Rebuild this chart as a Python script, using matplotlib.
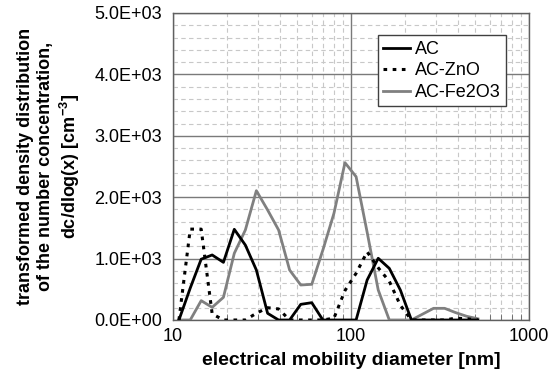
import matplotlib
matplotlib.use("Agg")
import matplotlib.pyplot as plt
from matplotlib.ticker import FixedLocator, FuncFormatter, MultipleLocator

plt.rcParams['font.family'] = ['Liberation Sans', 'DejaVu Sans']
plt.rcParams['mathtext.fontset'] = 'custom'
plt.rcParams['mathtext.rm'] = 'Liberation Sans'
plt.rcParams['mathtext.bf'] = 'Liberation Sans:bold'

# particle diameter channels [nm]
diameter = [10.8, 12.5, 14.4, 16.6, 19.2, 22.1, 25.5, 29.4, 34.0, 39.2,
            45.2, 52.2, 60.2, 69.5, 80.2, 92.5, 106.8, 123.2, 142.2, 164.1,
            189.3, 218.5, 252.1, 290.9, 335.7, 387.3, 446.9, 515.7]

ac = [0, 520, 990, 1059, 939, 1477, 1220, 814, 109, 0,
      0, 255, 282, 0, 0, 0, 0, 651, 1005, 841,
      489, 0, 0, 0, 0, 0, 0, 0]

ac_zno = [0, 1480, 1480, 100, 0, 0, 0, 110, 200, 180,
          0, 0, 0, 0, 30, 480, 760, 1110, 850, 630,
          240, 0, 0, 0, 0, 30, 20, 0]

ac_fe2o3 = [0, 0, 315, 206, 369, 1086, 1466, 2106, 1792, 1466,
            814, 570, 581, 1140, 1737, 2562, 2334, 1430, 489, 0,
            0, 0, 95, 190, 190, 120, 60, 20]

fig = plt.figure(figsize=(5.49, 3.80), dpi=100)
ax = fig.add_axes([0.3151, 0.1579, 0.6485, 0.8079])

ax.plot(diameter, ac, color='black', lw=2.0, label='AC', zorder=4)
ax.plot(diameter, ac_zno, color='black', lw=2.2, linestyle=(0, (1.2, 1.8)), label='AC-ZnO', zorder=4)
ax.plot(diameter, ac_fe2o3, color='#808080', lw=2.0, label='AC-Fe2O3', zorder=3)

ax.set_xscale('log')
ax.set_xlim(10, 1000)
ax.set_ylim(0, 5000)

ax.xaxis.set_major_locator(FixedLocator([10, 100, 1000]))
ax.xaxis.set_major_formatter(FuncFormatter(lambda v, p: f"{int(round(v))}"))
minors = [m * d for d in (10, 100) for m in range(2, 10)]
ax.xaxis.set_minor_locator(FixedLocator(minors))
ax.xaxis.set_minor_formatter(FuncFormatter(lambda v, p: ""))

ax.yaxis.set_major_locator(MultipleLocator(1000))
ax.yaxis.set_minor_locator(MultipleLocator(200))
ax.yaxis.set_major_formatter(FuncFormatter(lambda v, p: f"{v:.1E}"))

ax.grid(which='major', color='#7a7a7a', lw=1.0, linestyle='-')
ax.grid(which='minor', color='#c8c8c8', lw=0.8, linestyle=(0, (4, 3)))
ax.set_axisbelow(True)

ax.tick_params(which='both', direction='in', colors='#606060', labelcolor='black',
               labelsize=13)
ax.tick_params(axis='y', which='major', length=0, pad=8)
ax.tick_params(axis='x', which='major', length=0, pad=6)
ax.tick_params(which='minor', length=4)
ax.tick_params(axis='y', which='minor', length=0)

for s in ax.spines.values():
    s.set_color('#606060')
    s.set_linewidth(1.0)

ax.set_xlabel('electrical mobility diameter [nm]', fontsize=14, fontweight='bold', labelpad=5)
ax.set_ylabel('transformed density distribution\nof the number concentration,\n'
              r'dc/dlog(x) [cm$^{\mathbf{-3}}$]',
              fontsize=13, fontweight='bold', labelpad=9, linespacing=1.2)

leg = ax.legend(loc='upper right', bbox_to_anchor=(0.935, 0.927), fontsize=13,
                frameon=True, fancybox=False, edgecolor='#404040', framealpha=1,
                handlelength=1.45, handletextpad=0.28, borderpad=0.3, labelspacing=0.25,
                borderaxespad=0)
leg.get_frame().set_linewidth(1.0)

fig.savefig('out.png', dpi=100)
